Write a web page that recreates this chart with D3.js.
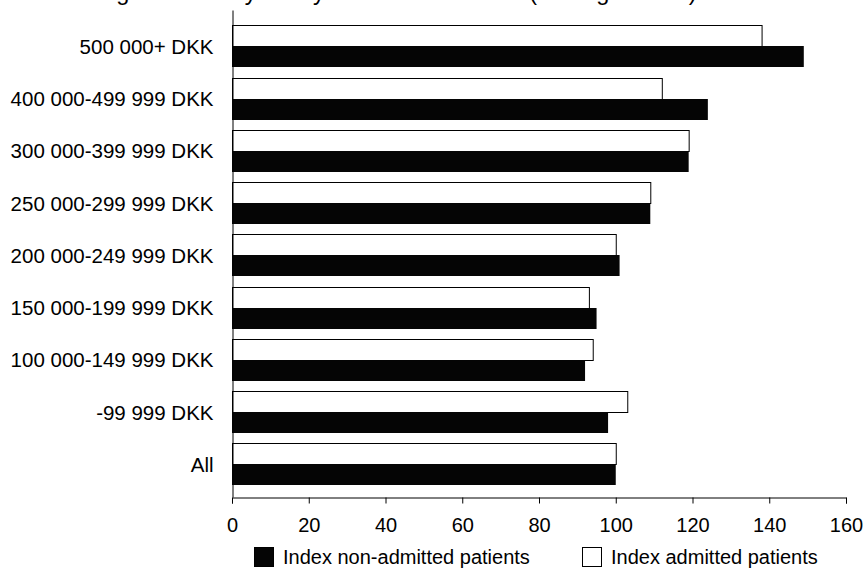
<!DOCTYPE html>
<html>
<head>
<meta charset="utf-8">
<script src="https://cdn.jsdelivr.net/npm/d3@7"></script>
<style>
  html, body { margin: 0; padding: 0; background: #fff; }
  svg { display: block; }
  text { font-family: "Liberation Sans", Arial, sans-serif; fill: #000; }
</style>
</head>
<body>
<svg id="chart" width="866" height="569"></svg>
<script>
const categories = [
  "500 000+ DKK",
  "400 000-499 999 DKK",
  "300 000-399 999 DKK",
  "250 000-299 999 DKK",
  "200 000-249 999 DKK",
  "150 000-199 999 DKK",
  "100 000-149 999 DKK",
  "-99 999 DKK",
  "All"
];
const admitted =    [138, 112, 119, 109, 100, 93, 94, 103, 100];
const nonAdmitted = [149, 124, 119, 109, 101, 95, 92,  98, 100];
const seriesNames = ["Index non-admitted patients", "Index admitted patients"];
const xTicks = [0, 20, 40, 60, 80, 100, 120, 140, 160];
const titleText = "Average income by family household income (average = 100)";

const svg = d3.select("#chart");
const mLeft = 232, mRight = 846, mTop = 10, mBottom = 497;

const x = d3.scaleLinear().domain([0, 160]).range([mLeft, mRight]);
const y = d3.scaleBand().domain(categories).range([mTop, mBottom])
  .paddingInner(0.197).paddingOuter(0.259).align(0.57);
const sub = d3.scaleBand().domain(["admitted", "nonAdmitted"]).range([0, y.bandwidth()]);

// Title (mostly cut off at top of the picture, as in the reference)
svg.append("text")
  .attr("x", 55).attr("y", 0)
  .style("font-size", "23.6px")
  .text(titleText);

const rows = categories.map((c, i) => ({ c, admitted: admitted[i], nonAdmitted: nonAdmitted[i] }));

const g = svg.append("g");
g.selectAll("rect.adm").data(rows).join("rect")
  .attr("class", "adm")
  .attr("x", x(0) + 0.5)
  .attr("y", d => Math.round(y(d.c) + sub("admitted")) + 0.5)
  .attr("width", d => x(d.admitted) - x(0))
  .attr("height", Math.round(sub.bandwidth()))
  .attr("fill", "#fff").attr("stroke", "#000").attr("stroke-width", 1);
g.selectAll("rect.non").data(rows).join("rect")
  .attr("class", "non")
  .attr("x", x(0))
  .attr("y", d => Math.round(y(d.c) + sub("nonAdmitted")))
  .attr("width", d => x(d.nonAdmitted) - x(0))
  .attr("height", Math.round(sub.bandwidth()))
  .attr("fill", "#050505");

// X axis
const xAxis = svg.append("g")
  .attr("transform", `translate(0,${mBottom + 0.5})`)
  .call(d3.axisBottom(x).tickValues(xTicks).tickSize(6).tickSizeOuter(6).tickPadding(14).tickFormat(d3.format("d")));
xAxis.selectAll("text").style("font-size", "20px");
xAxis.select(".domain").attr("stroke", "#000");
xAxis.selectAll(".tick line").attr("stroke", "#000");

// Y axis
const yAxis = svg.append("g")
  .attr("transform", `translate(${mLeft + 0.5},0)`)
  .call(d3.axisLeft(y).tickSize(0).tickSizeOuter(0).tickPadding(19));
yAxis.selectAll("text").style("font-size", "20.5px").attr("dy", "0.36em");
yAxis.select(".domain").attr("stroke", "#000");

// Legend
const legend = svg.append("g");
const legendItems = [
  { name: seriesNames[0], fill: "#050505", x: 254 },
  { name: seriesNames[1], fill: "#fff", x: 582 }
];
legendItems.forEach(it => {
  legend.append("rect")
    .attr("x", it.x + 0.5).attr("y", 547.5)
    .attr("width", 19).attr("height", 19)
    .attr("fill", it.fill).attr("stroke", "#000");
  legend.append("text")
    .attr("x", it.x + 29).attr("y", 564)
    .style("font-size", "20px")
    .text(it.name);
});
</script>
</body>
</html>
